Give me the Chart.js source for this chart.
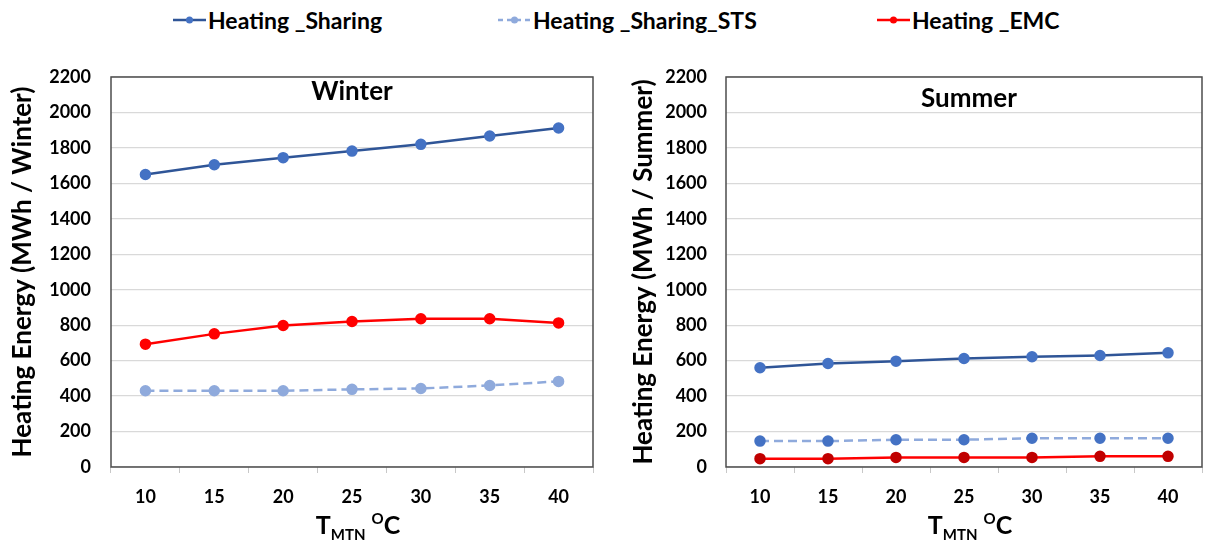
<!DOCTYPE html>
<html>
<head>
<meta charset="utf-8">
<script src="https://cdn.jsdelivr.net/npm/chart.js@4.4.1/dist/chart.umd.min.js"></script>
<style>
  html, body { margin: 0; padding: 0; background: #fff; }
  body { width: 1209px; height: 543px; position: relative; overflow: hidden; font-family: Lato, "Open Sans", sans-serif; }
  #legend { position: absolute; left: 0; top: 0; width: 1209px; height: 40px; }
  .item { position: absolute; top: 0; height: 40px; display: flex; align-items: center; font-weight: bold; font-size: 23px; color: #000; white-space: nowrap; }
  .item svg { margin-right: 2px; }
  .panel { position: absolute; top: 40px; height: 503px; }
  #left { left: 0; width: 605px; }
  #right { left: 605px; width: 604px; }
</style>
</head>
<body>
<div id="legend"></div>
<div class="panel" id="left"><canvas id="winterChart"></canvas></div>
<div class="panel" id="right"><canvas id="summerChart"></canvas></div>

<script>
// temperature categories (x axis)
const categories = ['10', '15', '20', '25', '30', '35', '40'];
const seriesNames = ['Heating _Sharing', 'Heating _Sharing_STS', 'Heating _EMC'];

// winter heating energy, MWh
const winterSharing = [1650, 1705, 1745, 1782, 1820, 1867, 1912];
const winterSTS = [430, 430, 430, 438, 443, 460, 483];
const winterEMC = [693, 751, 798, 821, 836, 836, 813];

// summer heating energy, MWh
const summerSharing = [560, 584, 597, 612, 622, 629, 644];
const summerSTS = [146, 146, 154, 154, 162, 162, 162];
const summerEMC = [47, 47, 54, 54, 54, 60, 60];

const yMin = 0;
const yMax = 2200;
const yStep = 200;

const FONT = 'Lato, "Open Sans", sans-serif';

const styles = [
    { line: '#2F5597', dot: '#4472C4', dash: [] },
    { line: '#8FAADC', dot: '#8FAADC', dash: [9, 5] },
    { line: '#FF0000', dot: '#FF0000', dash: [] }
];

// legend shared by both panels
const legendLeft = [173, 498, 877];
const legend = document.getElementById('legend');
seriesNames.forEach((name, i) => {
    const s = styles[i];
    const item = document.createElement('div');
    item.className = 'item';
    item.style.left = legendLeft[i] + 'px';
    const dash = s.dash.length ? 'stroke-dasharray="5 4"' : '';
    item.innerHTML =
        `<svg width="33" height="12"><line x1="0" y1="6" x2="33" y2="6" stroke="${s.line}" stroke-width="2.5" ${dash}/>` +
        `<circle cx="16.5" cy="6" r="3.5" fill="${s.dot}"/></svg><span>${name}</span>`;
    legend.appendChild(item);
});

// frame, in-plot title and the x title with sub/superscript
const panelDecor = {
    id: 'panelDecor',
    afterDraw(chart, args, opts) {
        const { ctx, chartArea: a } = chart;
        ctx.save();
        ctx.strokeStyle = '#4d4d4d';
        ctx.lineWidth = 1.5;
        ctx.strokeRect(a.left, a.top, a.right - a.left, a.bottom - a.top);

        const cx = (a.left + a.right) / 2;
        ctx.fillStyle = '#000';
        ctx.textAlign = 'center';
        ctx.textBaseline = 'middle';
        ctx.font = `bold 26px ${FONT}`;
        ctx.fillText(opts.title, cx + opts.titleDx, a.top + opts.titleDy);

        // T_MTN ^O C
        const base = a.bottom + 67;
        const big = `bold 25px ${FONT}`;
        const small = `bold 15px ${FONT}`;
        const parts = [
            { t: 'T', f: big, dy: 0 },
            { t: 'MTN', f: small, dy: 6 },
            { t: ' ', f: big, dy: 0 },
            { t: 'O', f: small, dy: -10 },
            { t: 'C', f: big, dy: 0 }
        ];
        let total = 0;
        parts.forEach(p => { ctx.font = p.f; p.w = ctx.measureText(p.t).width; total += p.w; });
        let x = cx - total / 2 + 6;
        ctx.textAlign = 'left';
        ctx.textBaseline = 'alphabetic';
        parts.forEach(p => {
            ctx.font = p.f;
            ctx.fillText(p.t, x, base + p.dy);
            x += p.w;
        });
        ctx.restore();
    }
};

const makeChart = (id, data, dotColors, season, layout) => {
    new Chart(document.getElementById(id), {
        type: 'line',
        data: {
            labels: categories,
            datasets: data.map((values, i) => ({
                label: seriesNames[i],
                data: values,
                borderColor: styles[i].line,
                borderWidth: 2.5,
                borderDash: styles[i].dash,
                backgroundColor: dotColors[i],
                pointBackgroundColor: dotColors[i],
                pointBorderColor: dotColors[i],
                pointRadius: 4.5,
                pointHoverRadius: 4.5,
                tension: 0,
                order: i === 0 ? 2 : (i === 1 ? 1 : 0)
            }))
        },
        options: {
            responsive: false,
            animation: false,
            maintainAspectRatio: false,
            layout: { padding: { top: 37, right: layout.right, left: 0, bottom: 0 } },
            plugins: {
                legend: { display: false },
                tooltip: { enabled: false },
                panelDecor: { title: season, titleDx: layout.titleDx, titleDy: layout.titleDy }
            },
            scales: {
                x: {
                    offset: true,
                    grid: { offset: true, drawOnChartArea: false, drawTicks: true, tickLength: 6, color: '#c8c8c8' },
                    border: { display: false },
                    ticks: { color: '#000', padding: 13, font: { family: FONT, size: 18, weight: 'bold' } },
                    afterFit: s => { s.height = 76; }
                },
                y: {
                    min: yMin,
                    max: yMax,
                    ticks: {
                        stepSize: yStep,
                        color: '#000',
                        padding: layout.tickPad,
                        font: { family: FONT, size: 18, weight: 'bold' },
                        callback: v => String(v)
                    },
                    grid: { color: '#d9d9d9', lineWidth: 1.3, drawTicks: false },
                    border: { display: false },
                    title: {
                        display: true,
                        text: `Heating Energy (MWh / ${season})`,
                        color: '#000',
                        font: { family: FONT, size: 26, weight: 'bold' },
                        padding: { top: layout.titlePad, bottom: 0 }
                    },
                    afterFit: s => { s.width = layout.axisWidth; }
                }
            }
        },
        plugins: [panelDecor]
    });
};

const setSize = (id, w, h) => {
    const c = document.getElementById(id);
    c.width = w; c.height = h;
    c.style.width = w + 'px'; c.style.height = h + 'px';
};
setSize('winterChart', 605, 503);
setSize('summerChart', 604, 503);

makeChart('winterChart', [winterSharing, winterSTS, winterEMC],
    ['#4472C4', '#8FAADC', '#FF0000'], 'Winter',
    { right: 12, axisWidth: 111, tickPad: 20, titlePad: 7, titleDx: 0, titleDy: 15 });

makeChart('summerChart', [summerSharing, summerSTS, summerEMC],
    ['#4472C4', '#4472C4', '#C00000'], 'Summer',
    { right: 5, axisWidth: 121, tickPad: 19, titlePad: 23, titleDx: 5, titleDy: 22 });
</script>
</body>
</html>
